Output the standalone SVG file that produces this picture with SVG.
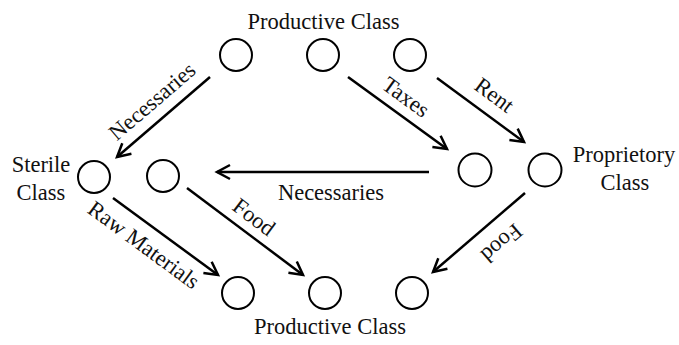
<svg xmlns="http://www.w3.org/2000/svg" width="679" height="345" viewBox="0 0 679 345">
<style>
.n{fill:none;stroke:#000;stroke-width:2}
.e{fill:none;stroke:#000;stroke-width:2.5}
text{font-family:"Liberation Serif","Times New Roman",serif;font-size:22.5px;fill:#111}
</style>
<defs>
<marker id="ah" markerUnits="userSpaceOnUse" markerWidth="20" markerHeight="20" viewBox="-14 -10 16 20" refX="0" refY="0" orient="auto">
<path d="M-13,-7 L0,0 L-13,7" fill="none" stroke="#000" stroke-width="2.5" stroke-linejoin="miter"/>
</marker>
</defs>
<rect width="679" height="345" fill="#fff"/>
<g id="labels">
<text x="323.5" y="29" text-anchor="middle">Productive Class</text>
<text x="330" y="334" text-anchor="middle">Productive Class</text>
<text x="41" y="172" text-anchor="middle">Sterile</text>
<text x="41" y="200" text-anchor="middle">Class</text>
<text x="624" y="162" text-anchor="middle">Proprietory</text>
<text x="625" y="190" text-anchor="middle">Class</text>
</g>
<g id="top1"><circle class="n" cx="236" cy="55" r="16"/></g>
<g id="top2"><circle class="n" cx="323" cy="55" r="16"/></g>
<g id="top3"><circle class="n" cx="410" cy="55" r="16"/></g>
<g id="sterile1"><circle class="n" cx="94" cy="177" r="16"/></g>
<g id="sterile2"><circle class="n" cx="163" cy="176" r="16"/></g>
<g id="prop1"><circle class="n" cx="475" cy="170" r="16.5"/></g>
<g id="prop2"><circle class="n" cx="545" cy="170" r="16.5"/></g>
<g id="bot1"><circle class="n" cx="238" cy="293" r="16"/></g>
<g id="bot2"><circle class="n" cx="325" cy="293" r="16"/></g>
<g id="bot3"><circle class="n" cx="412" cy="293" r="16"/></g>
<g id="connectors">
<line class="e" x1="210" y1="77" x2="117" y2="157" marker-end="url(#ah)"/>
<line class="e" x1="348" y1="77" x2="447" y2="149" marker-end="url(#ah)"/>
<line class="e" x1="437" y1="78" x2="524" y2="142" marker-end="url(#ah)"/>
<line class="e" x1="429" y1="172" x2="217" y2="172" marker-end="url(#ah)"/>
<line class="e" x1="113" y1="198" x2="218" y2="275" marker-end="url(#ah)"/>
<line class="e" x1="187" y1="188" x2="303" y2="275" marker-end="url(#ah)"/>
<line class="e" x1="525" y1="193" x2="433" y2="272" marker-end="url(#ah)"/>
<text transform="translate(157,107) rotate(-40.7)" text-anchor="middle">Necessaries</text>
<text transform="translate(401.5,103) rotate(36)" text-anchor="middle">Taxes</text>
<text transform="translate(490,101) rotate(36.4)" text-anchor="middle">Rent</text>
<text x="331" y="200" text-anchor="middle">Necessaries</text>
<text transform="translate(139.5,251) rotate(36.3)" text-anchor="middle">Raw Materials</text>
<text transform="translate(249.5,223) rotate(36.9)" text-anchor="middle">Food</text>
<text transform="translate(497,237.5) rotate(139.3)" text-anchor="middle">Food</text>
</g>
</svg>
